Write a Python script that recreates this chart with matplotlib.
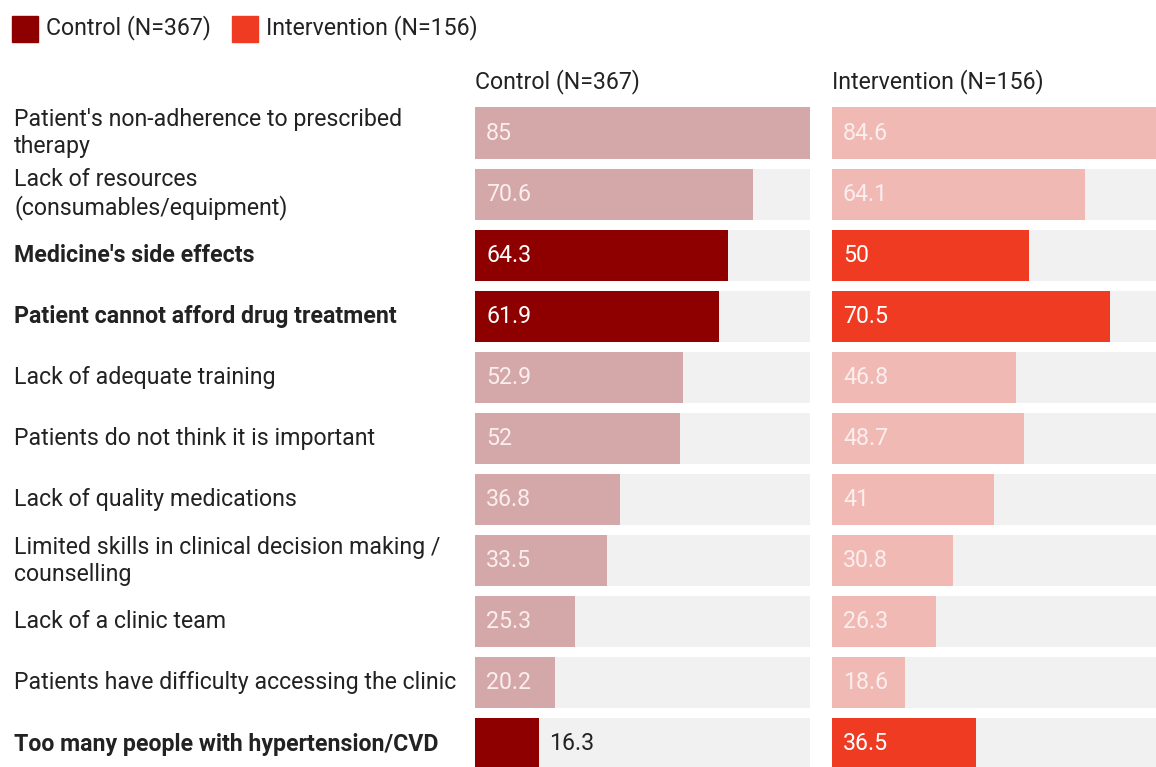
import numpy as np
import matplotlib.pyplot as plt

plt.rcParams['font.family'] = ['Roboto', 'DejaVu Sans']

# Datos
etiquetas = [
    "Patient's non-adherence to prescribed\ntherapy",
    "Lack of resources\n(consumables/equipment)",
    "Medicine's side effects",
    "Patient cannot afford drug treatment",
    "Lack of adequate training",
    "Patients do not think it is important",
    "Lack of quality medications",
    "Limited skills in clinical decision making /\ncounselling",
    "Lack of a clinic team",
    "Patients have difficulty accessing the clinic",
    "Too many people with hypertension/CVD",
]
control = [85, 70.6, 64.3, 61.9, 52.9, 52, 36.8, 33.5, 25.3, 20.2, 16.3]
intervencion = [84.6, 64.1, 50, 70.5, 46.8, 48.7, 41, 30.8, 26.3, 18.6, 36.5]
destacado = [False, False, True, True, False, False, False, False, False, False, True]
series = ["Control (N=367)", "Intervention (N=156)"]

# Colores
COL_FUERTE = ["#8e0000", "#ee3b22"]
COL_SUAVE = ["#d4a7a9", "#f1b9b4"]
COL_FONDO = "#f1f1f1"
COL_TEXTO = "#222222"

W, H = 1156, 767
fig = plt.figure(figsize=(W / 100, H / 100), dpi=100)

n = len(etiquetas)
paso = 61.1          # px por fila
y0 = 133             # centro de la primera fila (px)
top_px = y0 - paso / 2
bot_px = y0 + (n - 0.5) * paso
VMAX = 85
ancho_px = 335
lefts = [475, 832]
FS = 16.7

for k, valores in enumerate([control, intervencion]):
    ax = fig.add_axes([lefts[k] / W, (H - bot_px) / H, ancho_px / W, (bot_px - top_px) / H])
    ax.set_xlim(0, VMAX)
    ax.set_ylim(n - 0.5, -0.5)
    ax.axis('off')
    y = np.arange(n)
    ax.barh(y, [VMAX] * n, height=0.835, color=COL_FONDO, zorder=1)
    colores = [COL_FUERTE[k] if d else COL_SUAVE[k] for d in destacado]
    ax.barh(y, valores, height=0.835, color=colores, zorder=2)
    for i, v in enumerate(valores):
        txt = f"{v:g}"
        if v < 17:
            ax.annotate(txt, (v, i), xytext=(10, 0), textcoords='offset pixels',
                        va='center', ha='left', fontsize=FS, color=COL_TEXTO, zorder=3)
        else:
            col = "white" if destacado[i] else "#fbeeee"
            ax.annotate(txt, (0, i), xytext=(11, 0), textcoords='offset pixels',
                        va='center', ha='left', fontsize=FS, color=col, zorder=3)
    fig.text(lefts[k] / W, 1 - 82 / H, series[k], fontsize=FS, color=COL_TEXTO,
             va='center', ha='left')

# Etiquetas de filas
for i, lab in enumerate(etiquetas):
    fig.text(14 / W, 1 - (y0 + i * paso) / H, lab, fontsize=FS, color=COL_TEXTO,
             va='center', ha='left', linespacing=1.2,
             fontweight='bold' if destacado[i] else 'normal')

# Leyenda
x_leg = [12, 232]
for k in range(2):
    fig.patches.append(plt.Rectangle((x_leg[k] / W, 1 - 42 / H), 26 / W, 26 / H,
                                     transform=fig.transFigure, color=COL_FUERTE[k]))
    fig.text((x_leg[k] + 34) / W, 1 - 28 / H, series[k], fontsize=FS,
             color=COL_TEXTO, va='center', ha='left')

fig.savefig("out.png", dpi=100, facecolor='white')
